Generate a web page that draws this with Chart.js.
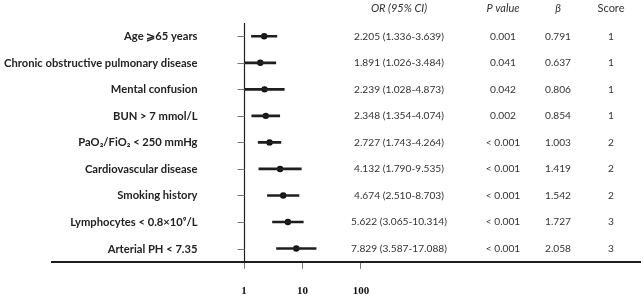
<!DOCTYPE html>
<html>
<head>
<meta charset="utf-8">
<script src="https://cdn.jsdelivr.net/npm/chart.js@4/dist/chart.umd.min.js"></script>
<style>
  html, body { margin: 0; padding: 0; background: #fff; }
  #wrap { width: 644px; height: 298px; position: relative; }
</style>
</head>
<body>
<div id="wrap"><canvas id="forest" width="644" height="298"></canvas></div>
<script>
// Row labels, top to bottom
const rowLabels = [
  "Age \u2A7E65 years",
  "Chronic obstructive pulmonary disease",
  "Mental confusion",
  "BUN > 7 mmol/L",
  "PaO\u2082/FiO\u2082 < 250 mmHg",
  "Cardiovascular disease",
  "Smoking history",
  "Lymphocytes < 0.8\u00D710\u2079/L",
  "Arterial PH < 7.35",
];

// Odds ratios and 95% CI bounds
const orValues = [2.205, 1.891, 2.239, 2.348, 2.727, 4.132, 4.674, 5.622, 7.829];
const ciLow = [1.336, 1.026, 1.028, 1.354, 1.743, 1.790, 2.510, 3.065, 3.587];
const ciHigh = [3.639, 3.484, 4.873, 4.074, 4.264, 9.535, 8.703, 10.314, 17.088];

// Table columns
const orText = [
  "2.205 (1.336-3.639)", "1.891 (1.026-3.484)", "2.239 (1.028-4.873)",
  "2.348 (1.354-4.074)", "2.727 (1.743-4.264)", "4.132 (1.790-9.535)",
  "4.674 (2.510-8.703)", "5.622 (3.065-10.314)", "7.829 (3.587-17.088)",
];
const pValues = ["0.001", "0.041", "0.042", "0.002", "< 0.001", "< 0.001", "< 0.001", "< 0.001", "< 0.001"];
const betaValues = ["0.791", "0.637", "0.806", "0.854", "1.003", "1.419", "1.542", "1.727", "2.058"];
const scores = ["1", "1", "1", "1", "2", "2", "2", "3", "3"];

// X axis ticks
const tickValues = [1, 10, 100];
const refValue = 1; // null line of the forest plot

const ink = "#1e1e1e";
const tickGray = "#777";
const sans = "Lato, 'Liberation Sans', sans-serif";

// Row labels, the null line with its row ticks, and the side table
const tablePlugin = {
  id: "sideTable",
  afterDraw(chart) {
    const ctx = chart.ctx;
    const { top, bottom } = chart.chartArea;
    const xScale = chart.scales.x;
    const yScale = chart.scales.y;
    const x0 = Math.round(xScale.getPixelForValue(refValue)) + 0.5;

    ctx.save();
    // null line
    ctx.strokeStyle = ink;
    ctx.lineWidth = 1.2;
    ctx.beginPath();
    ctx.moveTo(x0, top);
    ctx.lineTo(x0, bottom);
    ctx.stroke();
    // row ticks + labels
    ctx.strokeStyle = tickGray;
    ctx.lineWidth = 1;
    ctx.textAlign = "right";
    ctx.textBaseline = "middle";
    ctx.fillStyle = "#222";
    ctx.font = "bold 11.2px " + sans;
    rowLabels.forEach((lab, i) => {
      const y = Math.round(yScale.getPixelForValue(i)) + 0.5;
      ctx.beginPath();
      ctx.moveTo(x0 - 7, y);
      ctx.lineTo(x0, y);
      ctx.stroke();
      ctx.fillText(lab, x0 - 47, y);
    });

    const cols = [
      { x: 399, head: "OR (95% CI)", italic: true, vals: orText },
      { x: 503, head: "P value", italic: true, vals: pValues },
      { x: 558, head: "\u03B2", italic: true, vals: betaValues },
      { x: 611, head: "Score", italic: false, vals: scores },
    ];
    ctx.textAlign = "center";
    ctx.fillStyle = "#333";
    cols.forEach((c) => {
      ctx.font = (c.italic ? "italic " : "") + "11px " + sans;
      ctx.fillText(c.head, c.x, 8);
      ctx.font = "10.2px " + sans;
      c.vals.forEach((v, i) => {
        ctx.fillText(v, c.x, yScale.getPixelForValue(i));
      });
    });
    ctx.restore();
  },
};

new Chart(document.getElementById("forest"), {
  type: "bar",
  data: {
    labels: rowLabels,
    datasets: [
      {
        type: "bar",
        indexAxis: "y",
        xAxisID: "x",
        yAxisID: "y",
        data: ciLow.map((lo, i) => [lo, ciHigh[i]]),
        backgroundColor: ink,
        barThickness: 2,
      },
      {
        type: "scatter",
        xAxisID: "x",
        yAxisID: "y",
        data: orValues.map((v, i) => ({ x: v, y: rowLabels[i] })),
        pointRadius: 3.2,
        pointBackgroundColor: "#111",
        pointBorderWidth: 0,
        showLine: false,
      },
    ],
  },
  options: {
    responsive: false,
    animation: false,
    layout: { padding: { top: 23, left: 52, right: 3, bottom: -16 } },
    plugins: {
      legend: { display: false },
      tooltip: { enabled: false },
    },
    scales: {
      x: {
        type: "logarithmic",
        offset: false,
        min: Math.pow(10, -3.29),
        max: Math.pow(10, 6.78),
        afterBuildTicks: (scale) => {
          scale.ticks = tickValues.map((v) => ({ value: v }));
        },
        ticks: {
          callback: (v) => String(v),
          color: "#111",
          padding: 16,
          maxRotation: 0,
          autoSkip: false,
          font: { family: "'Liberation Serif', serif", weight: "bold", size: 11 },
        },
        grid: {
          offset: false,
          drawOnChartArea: false,
          drawTicks: true,
          tickLength: 7,
          color: tickGray,
          tickColor: tickGray,
          tickWidth: 1,
        },
        border: { display: true, color: ink, width: 2 },
      },
      y: {
        type: "category",
        display: false,
        offset: true,
      },
    },
  },
  plugins: [tablePlugin],
});
</script>
</body>
</html>
